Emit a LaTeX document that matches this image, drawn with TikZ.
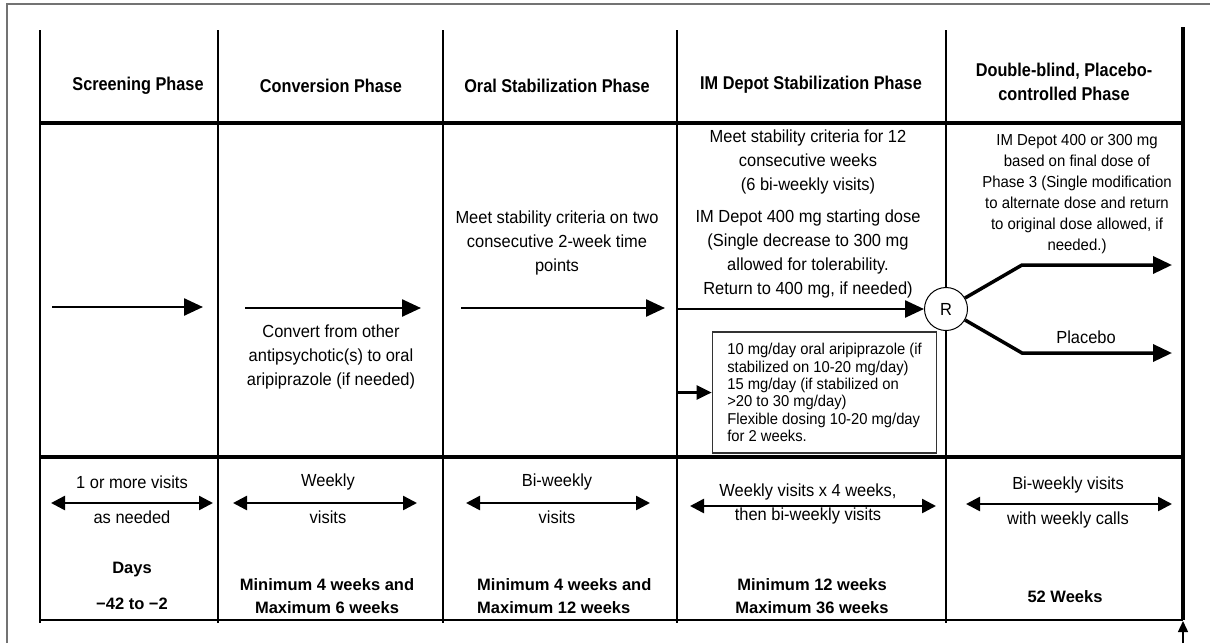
\documentclass[tikz,border=0pt]{standalone}
\usepackage{fontspec}
\setmainfont{Liberation Sans}
\newfontfamily\hdrfont[FakeStretch=0.88]{Liberation Sans}
\newfontfamily\bodyfont[FakeStretch=0.94]{Liberation Sans}
\usetikzlibrary{arrows.meta}
\begin{document}
\begin{tikzpicture}[x=1pt,y=-1pt,
  frame/.style={line width=1.4pt, black!55},
  vline/.style={line width=2.7pt, black},
  hline/.style={line width=3.8pt, black},
  hdr/.style={font=\hdrfont\bfseries\fontsize{18.5}{24}\selectfont, align=center, inner sep=0pt},
  body/.style={font=\bodyfont\fontsize{17.5}{24}\selectfont, align=center, inner sep=0pt},
  small/.style={font=\bodyfont\fontsize{15.9}{21}\selectfont, align=center, inner sep=0pt},
  bold/.style={font=\bfseries\fontsize{16.5}{23}\selectfont, align=center, inner sep=0pt},
  arr/.style={line width=2.5pt, -{Triangle[length=19pt,width=17pt]}},
  darr/.style={line width=2.5pt, {Triangle[length=14pt,width=14pt]}-{Triangle[length=14pt,width=14pt]}},
  dosebox/.style={draw=black!80, line width=1.3pt, align=left, inner xsep=15pt, minimum height=121pt, font=\bodyfont\fontsize{15.7}{17.3}\selectfont}
]
\useasboundingbox (0,0) rectangle (1210,643);
% outer frame
\draw[frame] (7,643) -- (7,4) -- (1210,4);
% grid
\foreach \x in {40,218,443,677,946} \draw[vline] (\x,30) -- (\x,623);
\draw[line width=3.6pt] (1183,27) -- (1183,620);
\draw[hline] (40,123) -- (1183,123);
\draw[hline] (40,457) -- (1183,457);
\draw[line width=1.8pt] (40,620) -- (1183,620);
% bottom-right small arrow
\coordinate (ba0) at (1183,643);
\coordinate (ba1) at (1183,621);
\draw[line width=1.4pt, -{Triangle[length=11pt,width=10pt]}] (ba0) -- (ba1);

% headers
\node[hdr] (h1) at (138,86) {Screening Phase};
\node[hdr] (h2) at (331,86) {Conversion Phase};
\node[hdr] (h3) at (557,86) {Oral Stabilization Phase};
\node[hdr] (h4) at (811,85) {IM Depot Stabilization Phase};
\node[hdr] (h5) at (1064,82) {Double-blind, Placebo-\\controlled Phase};

% middle row
\coordinate (s1) at (52,307);  \coordinate (e1) at (203,307);
\draw[arr] (s1) -- (e1);
\coordinate (s2) at (245,308); \coordinate (e2) at (421,308);
\draw[arr] (s2) -- (e2);
\node[body] (convtxt) at (331,357) {Convert from other\\antipsychotic(s) to oral\\aripiprazole (if needed)};
\node[body] (oraltxt) at (557,243) {Meet stability criteria on two\\consecutive 2-week time\\points};
\coordinate (s3) at (461,308); \coordinate (e3) at (665,308);
\draw[arr] (s3) -- (e3);
\node[body] (imtxt1) at (808,162) {Meet stability criteria for 12\\consecutive weeks\\(6 bi-weekly visits)};
\node[body] (imtxt2) at (808,254) {IM Depot 400 mg starting dose\\(Single decrease to 300 mg\\allowed for tolerability.\\Return to 400 mg, if needed)};
\node[draw, circle, fill=white, line width=1pt, minimum size=43pt, inner sep=0pt, font=\bodyfont\fontsize{17.5}{20}\selectfont] (R) at (946,309) {R};
\coordinate (s4) at (677,309);
\draw[arr] (s4) -- (R.west);
\node[small] (dbtxt) at (1077,194) {IM Depot 400 or 300 mg\\based on final dose of\\Phase 3 (Single modification\\to alternate dose and return\\to original dose allowed, if\\needed.)};
\coordinate (ub) at (1022,265); \coordinate (ue) at (1172,265);
\coordinate (lb) at (1022,353); \coordinate (le) at (1172,353);
\draw[line width=3.5pt, -{Triangle[length=19pt,width=17pt]}] (R.30) -- (ub) -- (ue);
\draw[line width=3.5pt, -{Triangle[length=19pt,width=17pt]}] (R.-30) -- (lb) -- (le);
\node[body] (placebo) at (1086,337) {Placebo};
\node[dosebox] (box) at (824.5,392.5) {10 mg/day oral aripiprazole (if\\stabilized on 10-20 mg/day)\\15 mg/day (if stabilized on\\>20 to 30 mg/day)\\Flexible dosing 10-20 mg/day\\for 2 weeks.};
\coordinate (s5) at (677,392.5);
\draw[line width=2.5pt, -{Triangle[length=15pt,width=14pt]}] (s5) -- (box.west);

% bottom row
\node[body] (b1a) at (132,482) {1 or more visits};
\coordinate (b1l) at (51,503); \coordinate (b1r) at (213,503);
\draw[darr] (b1l) -- (b1r);
\node[body] (b1b) at (132,517) {as needed};
\node[bold] (b1c) at (132,570) {Days};
\node[bold] (b1d) at (132,604) {−42 to −2};

\node[body] (b2a) at (328,482) {Weekly};
\coordinate (b2l) at (233,503); \coordinate (b2r) at (417,503);
\draw[darr] (b2l) -- (b2r);
\node[body] (b2b) at (328,517) {visits};
\node[bold] (b2c) at (327,596) {Minimum 4 weeks and\\Maximum 6 weeks};

\node[body] (b3a) at (557,482) {Bi-weekly};
\coordinate (b3l) at (466,503); \coordinate (b3r) at (650,503);
\draw[darr] (b3l) -- (b3r);
\node[body] (b3b) at (557,517) {visits};
\node[bold, align=left, anchor=west] (b3c) at (477,596) {Minimum 4 weeks and\\Maximum 12 weeks};

\node[body] (b4a) at (808,492) {Weekly visits x 4 weeks,};
\coordinate (b4l) at (690,506); \coordinate (b4r) at (936,506);
\draw[darr] (b4l) -- (b4r);
\node[body] (b4b) at (808,516) {then bi-weekly visits};
\node[bold] (b4c) at (812,596) {Minimum 12 weeks\\Maximum 36 weeks};

\node[body] (b5a) at (1068,485) {Bi-weekly visits};
\coordinate (b5l) at (966,504); \coordinate (b5r) at (1172,504);
\draw[darr] (b5l) -- (b5r);
\node[body] (b5b) at (1068,520) {with weekly calls};
\node[bold] (b5c) at (1065,597) {52 Weeks};
\end{tikzpicture}
\end{document}
